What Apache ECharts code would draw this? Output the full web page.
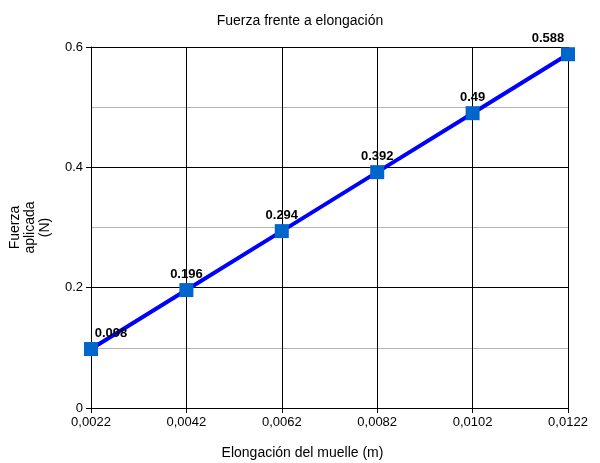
<!DOCTYPE html>
<html>
<head>
<meta charset="utf-8">
<title>Fuerza frente a elongación</title>
<script src="https://cdn.jsdelivr.net/npm/echarts@6/dist/echarts.min.js"></script>
<style>
  html, body { margin: 0; padding: 0; background: #fff; }
  #chart { width: 600px; height: 463px; }
</style>
</head>
<body>
<div id="chart"></div>
<script>
// datos
const elongaciones = ['0,0022', '0,0042', '0,0062', '0,0082', '0,0102', '0,0122'];
const fuerzas = [0.098, 0.196, 0.294, 0.392, 0.49, 0.588];

const chart = echarts.init(document.getElementById('chart'));
const font = 'Liberation Sans, Arial, sans-serif';

chart.setOption({
  animation: false,
  title: {
    text: 'Fuerza frente a elongación',
    left: 'center',
    top: 9,
    textStyle: { fontFamily: font, fontSize: 14, fontWeight: 'normal', color: '#000' }
  },
  grid: { left: 91, right: 32, top: 47, bottom: 55, outerBoundsMode: 'none', containLabel: false },
  xAxis: {
    type: 'category',
    data: elongaciones,
    boundaryGap: false,
    name: 'Elongación del muelle (m)',
    nameLocation: 'middle',
    nameGap: 38,
    // centrado en el lienzo, no en el área del gráfico
    nameTextStyle: { fontFamily: font, fontSize: 14, color: '#000', padding: [0, 54, 0, 0] },
    axisLine: { lineStyle: { color: '#000', width: 1 } },
    axisTick: { show: true, length: 5, lineStyle: { color: '#000' } },
    axisLabel: { fontFamily: font, fontSize: 13, color: '#000', margin: 8 },
    splitLine: { show: true, lineStyle: { color: '#000', width: 1 } }
  },
  yAxis: {
    type: 'value',
    min: 0,
    max: 0.6,
    interval: 0.2,
    name: 'Fuerza\naplicada\n(N)',
    nameLocation: 'middle',
    nameGap: 38,
    nameRotate: 90,
    nameTextStyle: { fontFamily: font, fontSize: 14, color: '#000', lineHeight: 15 },
    axisLine: { show: true, lineStyle: { color: '#000', width: 1 } },
    axisTick: { show: true, length: 5, lineStyle: { color: '#000' } },
    axisLabel: { fontFamily: font, fontSize: 13, color: '#000', margin: 8 },
    splitLine: { show: true, lineStyle: { color: '#000', width: 1 } },
    minorTick: { show: false, splitNumber: 2 },
    minorSplitLine: { show: true, lineStyle: { color: '#b3b3b3', width: 1 } }
  },
  series: [{
    type: 'line',
    data: fuerzas.map((v, i) => {
      const d = { value: v };
      if (i === 0) d.label = { offset: [20, 0] };
      if (i === fuerzas.length - 1) d.label = { offset: [-20, 0] };
      return d;
    }),
    symbol: 'rect',
    symbolSize: 14,
    lineStyle: { color: '#0000ff', width: 4 },
    itemStyle: { color: '#0066cc' },
    label: {
      show: true,
      position: 'top',
      distance: 2,
      fontFamily: font,
      fontSize: 13,
      fontWeight: 'bold',
      color: '#000'
    }
  }]
});
</script>
</body>
</html>
